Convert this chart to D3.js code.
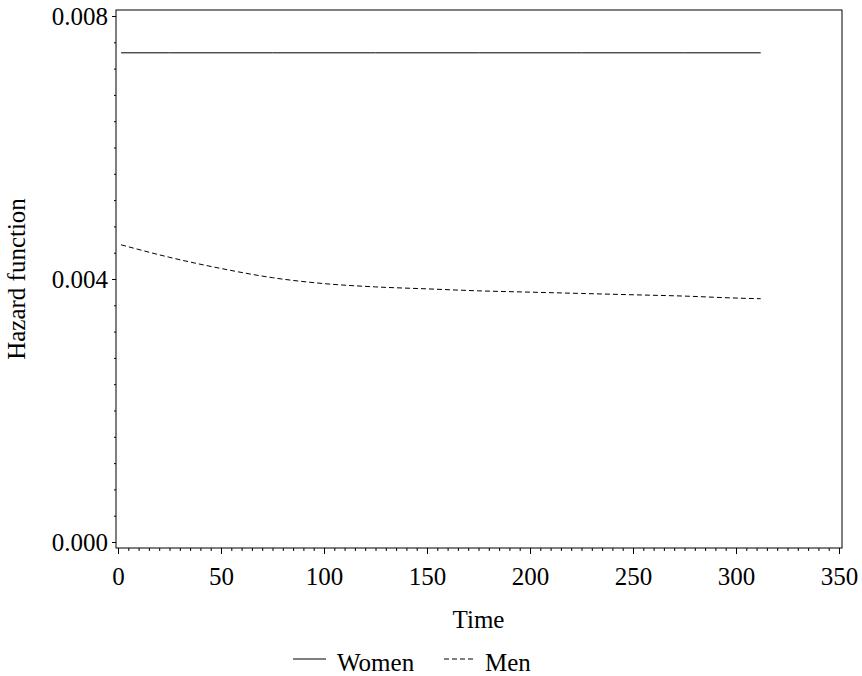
<!DOCTYPE html>
<html>
<head>
<meta charset="utf-8">
<script src="https://cdn.jsdelivr.net/npm/d3@7"></script>
<style>
  body { margin: 0; background: #fff; }
  text { font-family: "Times New Roman", "Liberation Serif", Times, serif; fill: #000; }
</style>
</head>
<body>
<div id="chart"></div>
<script>
// values
const times = [1.5, 25, 50, 75, 100, 125, 150, 175, 200, 225, 250, 275, 300, 312];
const women = [0.00744, 0.00744, 0.00744, 0.00744, 0.00744, 0.00744, 0.00744, 0.00744, 0.00744, 0.00744, 0.00744, 0.00744, 0.00744, 0.00744];
const men = [0.00452, 0.00433, 0.00416, 0.00402, 0.00393, 0.00388, 0.00385, 0.00382, 0.00380, 0.00378, 0.00376, 0.00374, 0.00371, 0.00370];
const xTicks = [0, 50, 100, 150, 200, 250, 300, 350];
const yTicks = [0, 0.004, 0.008];
const seriesNames = ["Women", "Men"];

const W = 862, H = 676;
const frame = { left: 116, top: 10, right: 842, bottom: 548 };
const serif = '"Times New Roman", "Liberation Serif", Times, serif';

const svg = d3.select("#chart")
  .append("svg")
  .attr("width", W)
  .attr("height", H);

const x = d3.scaleLinear().domain([0, 350]).range([118, 839]);
const y = d3.scaleLinear().domain([0, 0.008]).range([542, 16]);

// frame
svg.append("rect")
  .attr("x", frame.left)
  .attr("y", frame.top)
  .attr("width", frame.right - frame.left)
  .attr("height", frame.bottom - frame.top)
  .attr("fill", "none")
  .attr("stroke", "#000")
  .attr("stroke-width", 1);

// x axis: minor then major
svg.append("g")
  .attr("transform", `translate(0, ${frame.bottom})`)
  .call(d3.axisBottom(x).tickValues(d3.range(0, 351, 5)).tickSize(3).tickFormat(""))
  .call(g => g.select(".domain").remove());

svg.append("g")
  .attr("transform", `translate(0, ${frame.bottom})`)
  .call(d3.axisBottom(x).tickValues(xTicks).tickSize(6).tickPadding(13).tickFormat(d3.format("d")))
  .call(g => g.select(".domain").remove())
  .selectAll("text")
  .style("font-size", "25px")
  .style("font-family", serif);

// y axis: minor then major
svg.append("g")
  .attr("transform", `translate(${frame.left}, 0)`)
  .call(d3.axisLeft(y).tickValues(d3.range(0, 0.00801, 0.0004)).tickSize(2).tickFormat(""))
  .call(g => g.select(".domain").remove());

svg.append("g")
  .attr("transform", `translate(${frame.left}, 0)`)
  .call(d3.axisLeft(y).tickValues(yTicks).tickSize(4).tickPadding(4).tickFormat(d3.format(".3f")))
  .call(g => g.select(".domain").remove())
  .selectAll("text")
  .style("font-size", "25px")
  .style("font-family", serif);

svg.selectAll(".tick line").attr("stroke", "#000");

// lines
const line = d3.line()
  .x((d, i) => x(times[i]))
  .y(d => y(d));

svg.append("path")
  .datum(women)
  .attr("fill", "none")
  .attr("stroke", "#000")
  .attr("stroke-width", 1)
  .attr("d", line);

svg.append("path")
  .datum(men)
  .attr("fill", "none")
  .attr("stroke", "#000")
  .attr("stroke-width", 1)
  .attr("stroke-dasharray", "5,3")
  .attr("d", line.curve(d3.curveMonotoneX));

// axis labels
svg.append("text")
  .attr("x", (x(0) + x(350)) / 2)
  .attr("y", 628)
  .style("text-anchor", "middle")
  .style("font-size", "25px")
  .text("Time");

svg.append("text")
  .attr("transform", "rotate(-90)")
  .attr("x", -(y(0) + y(0.008)) / 2)
  .attr("y", 25)
  .style("text-anchor", "middle")
  .style("font-size", "25px")
  .text("Hazard function");

// legend
const legendItems = [
  { name: seriesNames[0], x1: 293, x2: 326, tx: 337, dash: null },
  { name: seriesNames[1], x1: 444, x2: 475, tx: 485, dash: "5,3" }
];

const legend = svg.selectAll(".legend")
  .data(legendItems)
  .enter()
  .append("g")
  .attr("class", "legend");

legend.append("line")
  .attr("x1", d => d.x1)
  .attr("x2", d => d.x2)
  .attr("y1", 659)
  .attr("y2", 659)
  .attr("stroke", "#000")
  .attr("stroke-width", 1)
  .attr("stroke-dasharray", d => d.dash);

legend.append("text")
  .attr("x", d => d.tx)
  .attr("y", 671)
  .style("font-size", "25px")
  .text(d => d.name);
</script>
</body>
</html>
